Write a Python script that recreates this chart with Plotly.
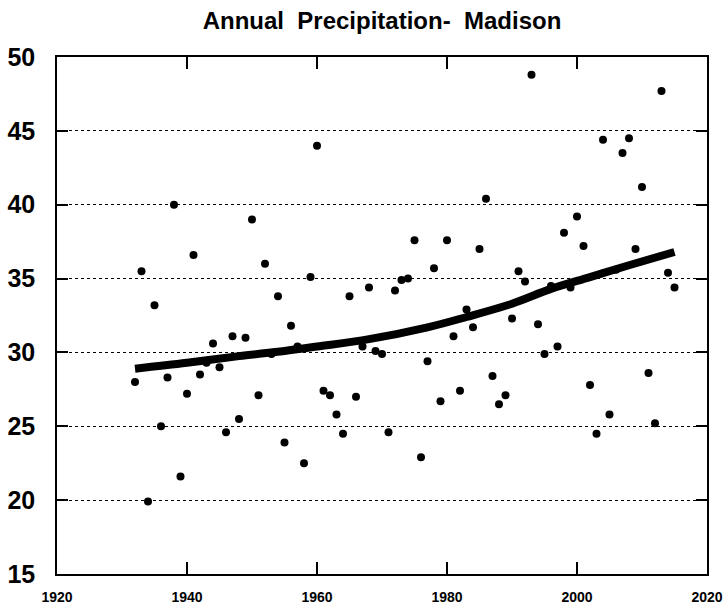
import plotly.graph_objects as go

years = list(range(1932, 2016))
precip = [
    28.0, 35.5, 19.9, 33.2, 25.0, 28.3, 40.0, 21.6, 27.2, 36.6,
    28.5, 29.3, 30.6, 29.0, 24.6, 31.1, 25.5, 31.0, 39.0, 27.1,
    36.0, 29.9, 33.8, 23.9, 31.8, 30.4, 22.5, 35.1, 44.0, 27.4,
    27.1, 25.8, 24.5, 33.8, 27.0, 30.4, 34.4, 30.1, 29.9, 24.6,
    34.2, 34.9, 35.0, 37.6, 22.9, 29.4, 35.7, 26.7, 37.6, 31.1,
    27.4, 32.9, 31.7, 37.0, 40.4, 28.4, 26.5, 27.1, 32.3, 35.5,
    34.8, 48.8, 31.9, 29.9, 34.5, 30.4, 38.1, 34.4, 39.2, 37.2,
    27.8, 24.5, 44.4, 25.8, 35.6, 43.5, 44.5, 37.0, 41.2, 28.6,
    25.2, 47.7, 35.4, 34.4,
]

trend_years = [1932, 1940, 1948, 1955, 1960, 1968, 1977, 1983, 1990, 1996, 2002, 2008, 2015]
trend_vals = [28.9, 29.3, 29.75, 30.1, 30.4, 30.9, 31.7, 32.4, 33.3, 34.3, 35.1, 35.9, 36.8]

x_ticks = [1920, 1940, 1960, 1980, 2000, 2020]
y_ticks = [15, 20, 25, 30, 35, 40, 45, 50]

W, H = 724, 610

fig = go.Figure()
fig.add_trace(go.Scatter(
    x=years, y=precip, mode="markers",
    marker=dict(color="black", size=8),
    showlegend=False, hoverinfo="skip", cliponaxis=False,
))
fig.add_trace(go.Scatter(
    x=trend_years, y=trend_vals, mode="lines",
    line=dict(color="black", width=8, shape="spline"),
    showlegend=False, hoverinfo="skip",
))

fig.update_layout(
    width=W, height=H,
    margin=dict(l=57, r=17, t=57, b=36, autoexpand=False),
    paper_bgcolor="white", plot_bgcolor="white",
    title=dict(
        text="<b>Annual\u00a0 Precipitation-\u00a0 Madison</b>",
        x=382 / W, xanchor="center",
        y=1 - 21 / H, yanchor="middle",
        font=dict(family="Liberation Sans", size=24, color="black"),
    ),
    font=dict(family="Liberation Sans", color="black"),
)

fig.update_xaxes(
    range=[1920, 2020], tickvals=x_ticks,
    ticktext=[f"<b>{v}</b>" for v in x_ticks],
    tickfont=dict(size=14, color="black", family="Liberation Sans"),
    ticks="inside", ticklen=12, tickwidth=1.5, tickcolor="black",
    showline=True, linecolor="black", linewidth=1.5, mirror="ticks",
    showgrid=False, zeroline=False, ticklabelstandoff=9, automargin=False,
)
fig.update_yaxes(
    range=[15, 50], tickvals=y_ticks,
    ticktext=[f"<b>{v}</b>" for v in y_ticks],
    tickfont=dict(size=25, color="black", family="Liberation Sans"),
    ticks="inside", ticklen=11, tickwidth=1.5, tickcolor="black",
    showline=True, linecolor="black", linewidth=1.5, mirror="ticks",
    showgrid=True, gridcolor="black", gridwidth=1, griddash="dot",
    zeroline=False, ticklabelstandoff=15, automargin=False,
)

fig.write_html(
    "out.html",
    config={"displayModeBar": False},
    post_script="document.body.style.margin='0';document.body.style.overflow='hidden';",
)
